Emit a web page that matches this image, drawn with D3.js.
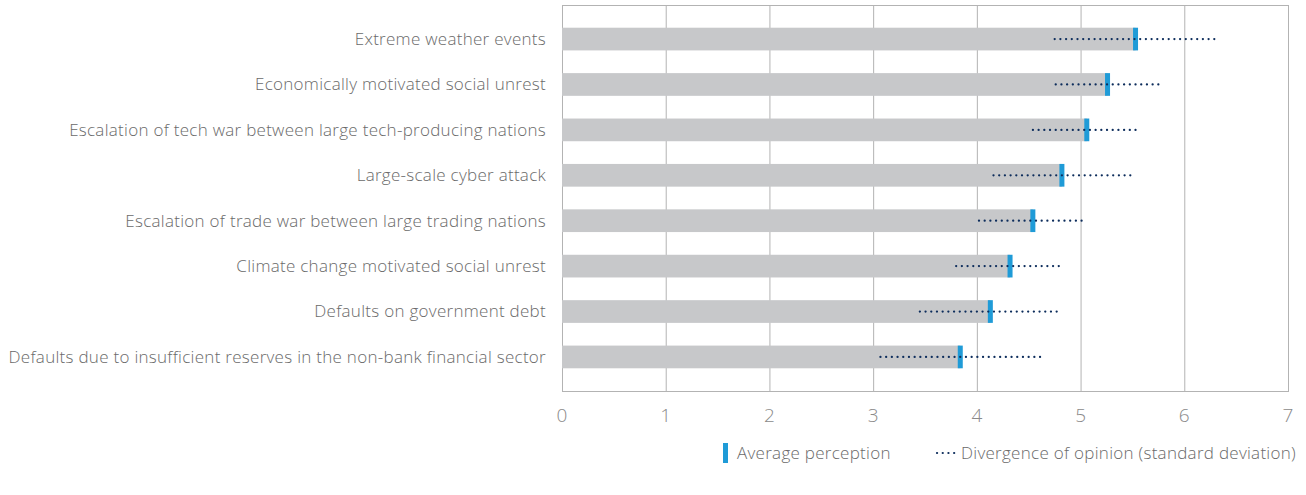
<!DOCTYPE html>
<html><head><meta charset="utf-8">
<script src="https://cdn.jsdelivr.net/npm/d3@7/dist/d3.min.js"></script>
<style>
html,body{margin:0;padding:0;background:#fff;}
svg{display:block;}
text{font-family:"Open Sans","Liberation Sans",Arial,sans-serif;font-weight:300;fill:#6a6a6a;}
</style></head>
<body><svg id="c" width="1306" height="495"></svg>
<script>
const categories = [
  "Extreme weather events",
  "Economically motivated social unrest",
  "Escalation of tech war between large tech-producing nations",
  "Large-scale cyber attack",
  "Escalation of trade war between large trading nations",
  "Climate change motivated social unrest",
  "Defaults on government debt",
  "Defaults due to insufficient reserves in the non-bank financial sector"
];
const averagePerception = [5.53, 5.26, 5.06, 4.82, 4.54, 4.32, 4.13, 3.84];
const standardDeviation = [0.78, 0.50, 0.52, 0.66, 0.52, 0.52, 0.68, 0.77];
const xTicks = [0, 1, 2, 3, 4, 5, 6, 7];
const legendLabels = ["Average perception", "Divergence of opinion (standard deviation)"];

const svg = d3.select("#c");
const plotLeft = 562, plotRight = 1288, plotTop = 5, plotBottom = 391;
const x = d3.scaleLinear().domain([0, 7]).range([plotLeft, plotRight]);
const y = d3.scaleBand().domain(categories).range([plotTop, plotBottom]).paddingInner(0.5).paddingOuter(0.5);

// gridlines
svg.append("g").selectAll("line").data(xTicks).join("line")
  .attr("x1", d => x(d) + 0.5).attr("x2", d => x(d) + 0.5)
  .attr("y1", plotTop).attr("y2", plotBottom)
  .attr("stroke", "#b3b3b3").attr("stroke-width", 1);
// frame
svg.append("rect").attr("x", plotLeft + 0.5).attr("y", plotTop + 0.5).attr("width", plotRight - plotLeft).attr("height", plotBottom - plotTop)
  .attr("fill", "none").attr("stroke", "#b3b3b3").attr("stroke-width", 1);

// bars
svg.append("g").selectAll("rect").data(categories).join("rect")
  .attr("x", x(0)).attr("y", d => y(d))
  .attr("width", (d, i) => x(averagePerception[i]) - x(0))
  .attr("height", y.bandwidth())
  .attr("fill", "#c7c8ca");

// markers
svg.append("g").selectAll("rect").data(categories).join("rect")
  .attr("x", (d, i) => x(averagePerception[i]) - 2.5).attr("y", d => y(d))
  .attr("width", 5).attr("height", y.bandwidth())
  .attr("fill", "#1f9bd7");

// std dev dotted lines
svg.append("g").selectAll("line").data(categories).join("line")
  .attr("x1", (d, i) => x(averagePerception[i] - standardDeviation[i]))
  .attr("x2", (d, i) => x(averagePerception[i] + standardDeviation[i]))
  .attr("y1", d => y(d) + y.bandwidth() / 2).attr("y2", d => y(d) + y.bandwidth() / 2)
  .attr("stroke", "#0d2d5c").attr("stroke-width", 2.2).attr("stroke-linecap", "round")
  .attr("stroke-dasharray", "0.1,5.6");

// category labels
svg.append("g").selectAll("text").data(categories).join("text")
  .attr("x", plotLeft - 16).attr("y", d => y(d) + y.bandwidth() / 2)
  .attr("dy", "0.35em").attr("text-anchor", "end")
  .style("font-size", "17px").style("letter-spacing", "0.28px").text(d => d);

// x tick labels
svg.append("g").selectAll("text").data(xTicks).join("text")
  .attr("x", d => x(d)).attr("y", 415).attr("dy", "0.35em")
  .attr("text-anchor", "middle").style("font-size", "19px").style("fill", "#8a8a8a").text(d => d);

// legend
const lg = svg.append("g");
lg.append("rect").attr("x", 723).attr("y", 443).attr("width", 5).attr("height", 20).attr("fill", "#1f9bd7");
lg.append("text").attr("x", 737).attr("y", 453).attr("dy", "0.35em").style("font-size", "17px").style("letter-spacing", "0.28px").text(legendLabels[0]);
lg.append("line").attr("x1", 937).attr("x2", 957).attr("y1", 453).attr("y2", 453)
  .attr("stroke", "#0d2d5c").attr("stroke-width", 2.2).attr("stroke-linecap", "round")
  .attr("stroke-dasharray", "0.1,5.6");
lg.append("text").attr("x", 961).attr("y", 453).attr("dy", "0.35em").style("font-size", "17px").style("letter-spacing", "0.28px").text(legendLabels[1]);
</script></body></html>
